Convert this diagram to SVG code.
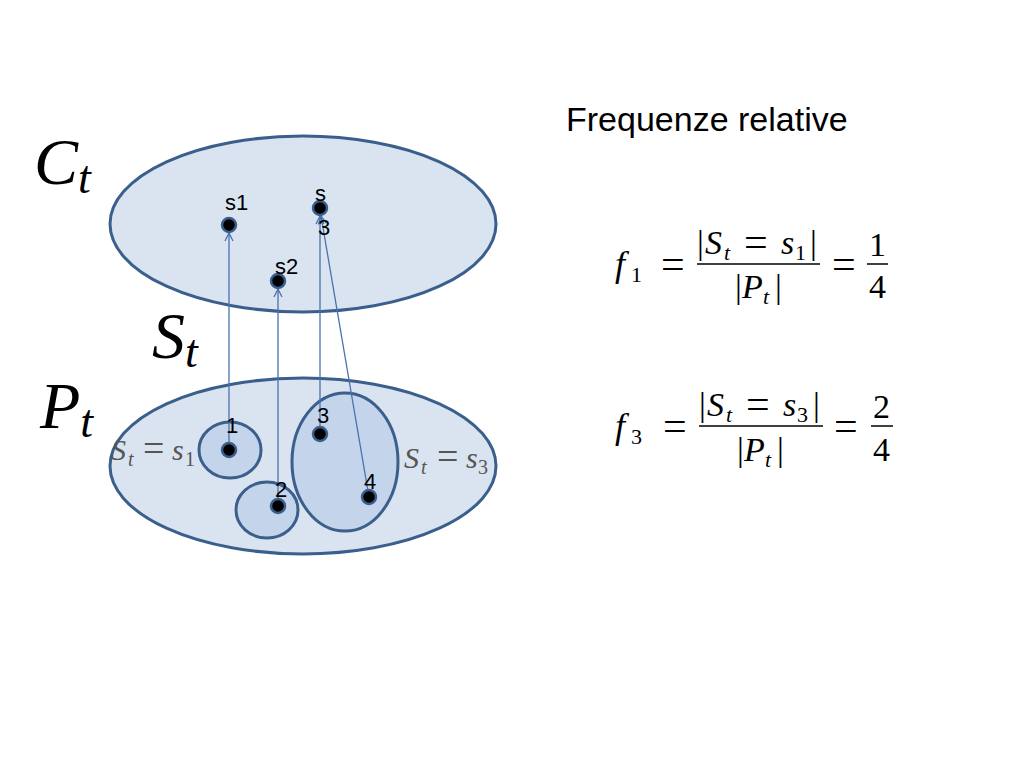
<svg xmlns="http://www.w3.org/2000/svg" width="1024" height="768" viewBox="0 0 1024 768">
<defs>
<style>
.big{fill:#dae3f0;stroke:#3b5f8c;stroke-width:3}
.sub{fill:#c4d4ea;stroke:#3b5f8c;stroke-width:3}
.dot{fill:#000;stroke:#3b5f8c;stroke-width:2.5}
.lbl{font-family:"Liberation Sans",Arial,sans-serif;font-size:22px;fill:#000}
.m{font-family:"Liberation Serif","Times New Roman",serif;font-style:italic;fill:#000}
.mr{font-family:"Liberation Serif","Times New Roman",serif;font-style:normal;fill:#000}
.con{stroke:#4a72b0;stroke-width:1.3;fill:none}
</style>
<marker id="arr" viewBox="0 0 10 10" refX="9" refY="5" markerWidth="10" markerHeight="10" markerUnits="userSpaceOnUse" orient="auto">
<path d="M1,1 L9,5 L1,9" fill="none" stroke="#4a72b0" stroke-width="1.3"/>
</marker>
</defs>
<rect width="1024" height="768" fill="#fff"/>

<g id="Ct-set">
<ellipse class="big" cx="303" cy="224" rx="193" ry="88"/>
</g>
<g id="Pt-set">
<ellipse class="big" cx="303" cy="466" rx="193" ry="88"/>
<text class="m" font-size="30" style="fill:#555"><tspan x="111" y="460">S</tspan><tspan x="128" y="466" font-size="20">t</tspan><tspan class="mr" x="143" y="461" font-size="38" style="fill:#555">=</tspan><tspan x="172" y="460">s</tspan><tspan class="mr" x="185" y="466" font-size="20" style="fill:#555">1</tspan></text>
<text class="m" font-size="30" style="fill:#555"><tspan x="404" y="468">S</tspan><tspan x="421" y="474" font-size="20">t</tspan><tspan class="mr" x="437" y="469" font-size="38" style="fill:#555">=</tspan><tspan x="466" y="468">s</tspan><tspan class="mr" x="478" y="474" font-size="20" style="fill:#555">3</tspan></text>
</g>
<g id="class-s1">
<ellipse class="sub" cx="230" cy="450" rx="31" ry="28"/>
</g>
<g id="class-s2">
<ellipse class="sub" cx="267" cy="510" rx="31" ry="28"/>
</g>
<g id="class-s3">
<ellipse class="sub" cx="345" cy="462" rx="53" ry="69"/>
</g>

<g id="connectors">
<line class="con" x1="229" y1="450" x2="229" y2="233" marker-end="url(#arr)"/>
<line class="con" x1="278" y1="506" x2="278" y2="289" marker-end="url(#arr)"/>
<line class="con" x1="320" y1="434" x2="320" y2="216" marker-end="url(#arr)"/>
<line class="con" x1="369" y1="497" x2="321" y2="216" marker-end="url(#arr)"/>
</g>

<g id="node-s1"><circle class="dot" cx="229" cy="225" r="7"/><text class="lbl" x="225" y="210">s1</text></g>
<g id="node-s2"><circle class="dot" cx="278" cy="281" r="7"/><text class="lbl" x="275" y="274">s2</text></g>
<g id="node-s3"><circle class="dot" cx="320" cy="208" r="7"/><text class="lbl" x="315" y="201">s</text><text class="lbl" x="318" y="235">3</text></g>
<g id="node-1"><circle class="dot" cx="229" cy="450" r="7"/><text class="lbl" x="226" y="433">1</text></g>
<g id="node-2"><circle class="dot" cx="278" cy="506" r="7"/><text class="lbl" x="275" y="497">2</text></g>
<g id="node-3"><circle class="dot" cx="320" cy="434" r="7"/><text class="lbl" x="317" y="423">3</text></g>
<g id="node-4"><circle class="dot" cx="369" cy="497" r="7"/><text class="lbl" x="364" y="489">4</text></g>

<g id="labels">
<text class="m" x="34" y="184" font-size="66">C<tspan font-size="46" dy="9">t</tspan></text>
<text class="m" x="152" y="358" font-size="66">S<tspan font-size="46" dy="9">t</tspan></text>
<text class="m" x="40" y="428" font-size="66">P<tspan font-size="46" dy="9">t</tspan></text>
<text x="566" y="131" font-family="Liberation Sans,Arial,sans-serif" font-size="34" fill="#000">Frequenze relative</text>
</g>

<g id="formula-f1">
<text class="m" font-size="36"><tspan x="615" y="276">f</tspan><tspan class="mr" x="631" y="282" font-size="22">1</tspan><tspan class="mr" x="661" y="278" font-size="42">=</tspan></text>
<text class="mr" font-size="34"><tspan x="697" y="254">|</tspan><tspan class="m" x="705" y="254">S</tspan><tspan class="m" x="724" y="260" font-size="22">t</tspan><tspan x="744" y="256" font-size="42">=</tspan><tspan class="m" x="781" y="254">s</tspan><tspan x="795" y="260" font-size="22">1</tspan><tspan x="810" y="254">|</tspan></text>
<line x1="697" y1="264" x2="820" y2="264" stroke="#000" stroke-width="1.5"/>
<text class="mr" font-size="34"><tspan x="735" y="298">|</tspan><tspan class="m" x="742" y="298">P</tspan><tspan class="m" x="763" y="304" font-size="22">t</tspan><tspan x="775" y="298">|</tspan></text>
<text class="mr" x="832" y="278" font-size="42">=</text>
<text class="mr" x="869" y="256" font-size="34">1</text>
<line x1="867" y1="264" x2="888" y2="264" stroke="#000" stroke-width="1.5"/>
<text class="mr" x="869" y="298" font-size="34">4</text>
</g>

<g id="formula-f3">
<text class="m" font-size="36"><tspan x="615" y="438">f</tspan><tspan class="mr" x="631" y="444" font-size="22">3</tspan><tspan class="mr" x="663" y="440" font-size="42">=</tspan></text>
<text class="mr" font-size="34"><tspan x="699" y="416">|</tspan><tspan class="m" x="707" y="416">S</tspan><tspan class="m" x="726" y="422" font-size="22">t</tspan><tspan x="746" y="418" font-size="42">=</tspan><tspan class="m" x="783" y="416">s</tspan><tspan x="797" y="422" font-size="22">3</tspan><tspan x="813" y="416">|</tspan></text>
<line x1="699" y1="426" x2="823" y2="426" stroke="#000" stroke-width="1.5"/>
<text class="mr" font-size="34"><tspan x="737" y="461">|</tspan><tspan class="m" x="744" y="461">P</tspan><tspan class="m" x="765" y="467" font-size="22">t</tspan><tspan x="777" y="461">|</tspan></text>
<text class="mr" x="834" y="440" font-size="42">=</text>
<text class="mr" x="873" y="418" font-size="34">2</text>
<line x1="871" y1="426" x2="893" y2="426" stroke="#000" stroke-width="1.5"/>
<text class="mr" x="873" y="461" font-size="34">4</text>
</g>
</svg>
